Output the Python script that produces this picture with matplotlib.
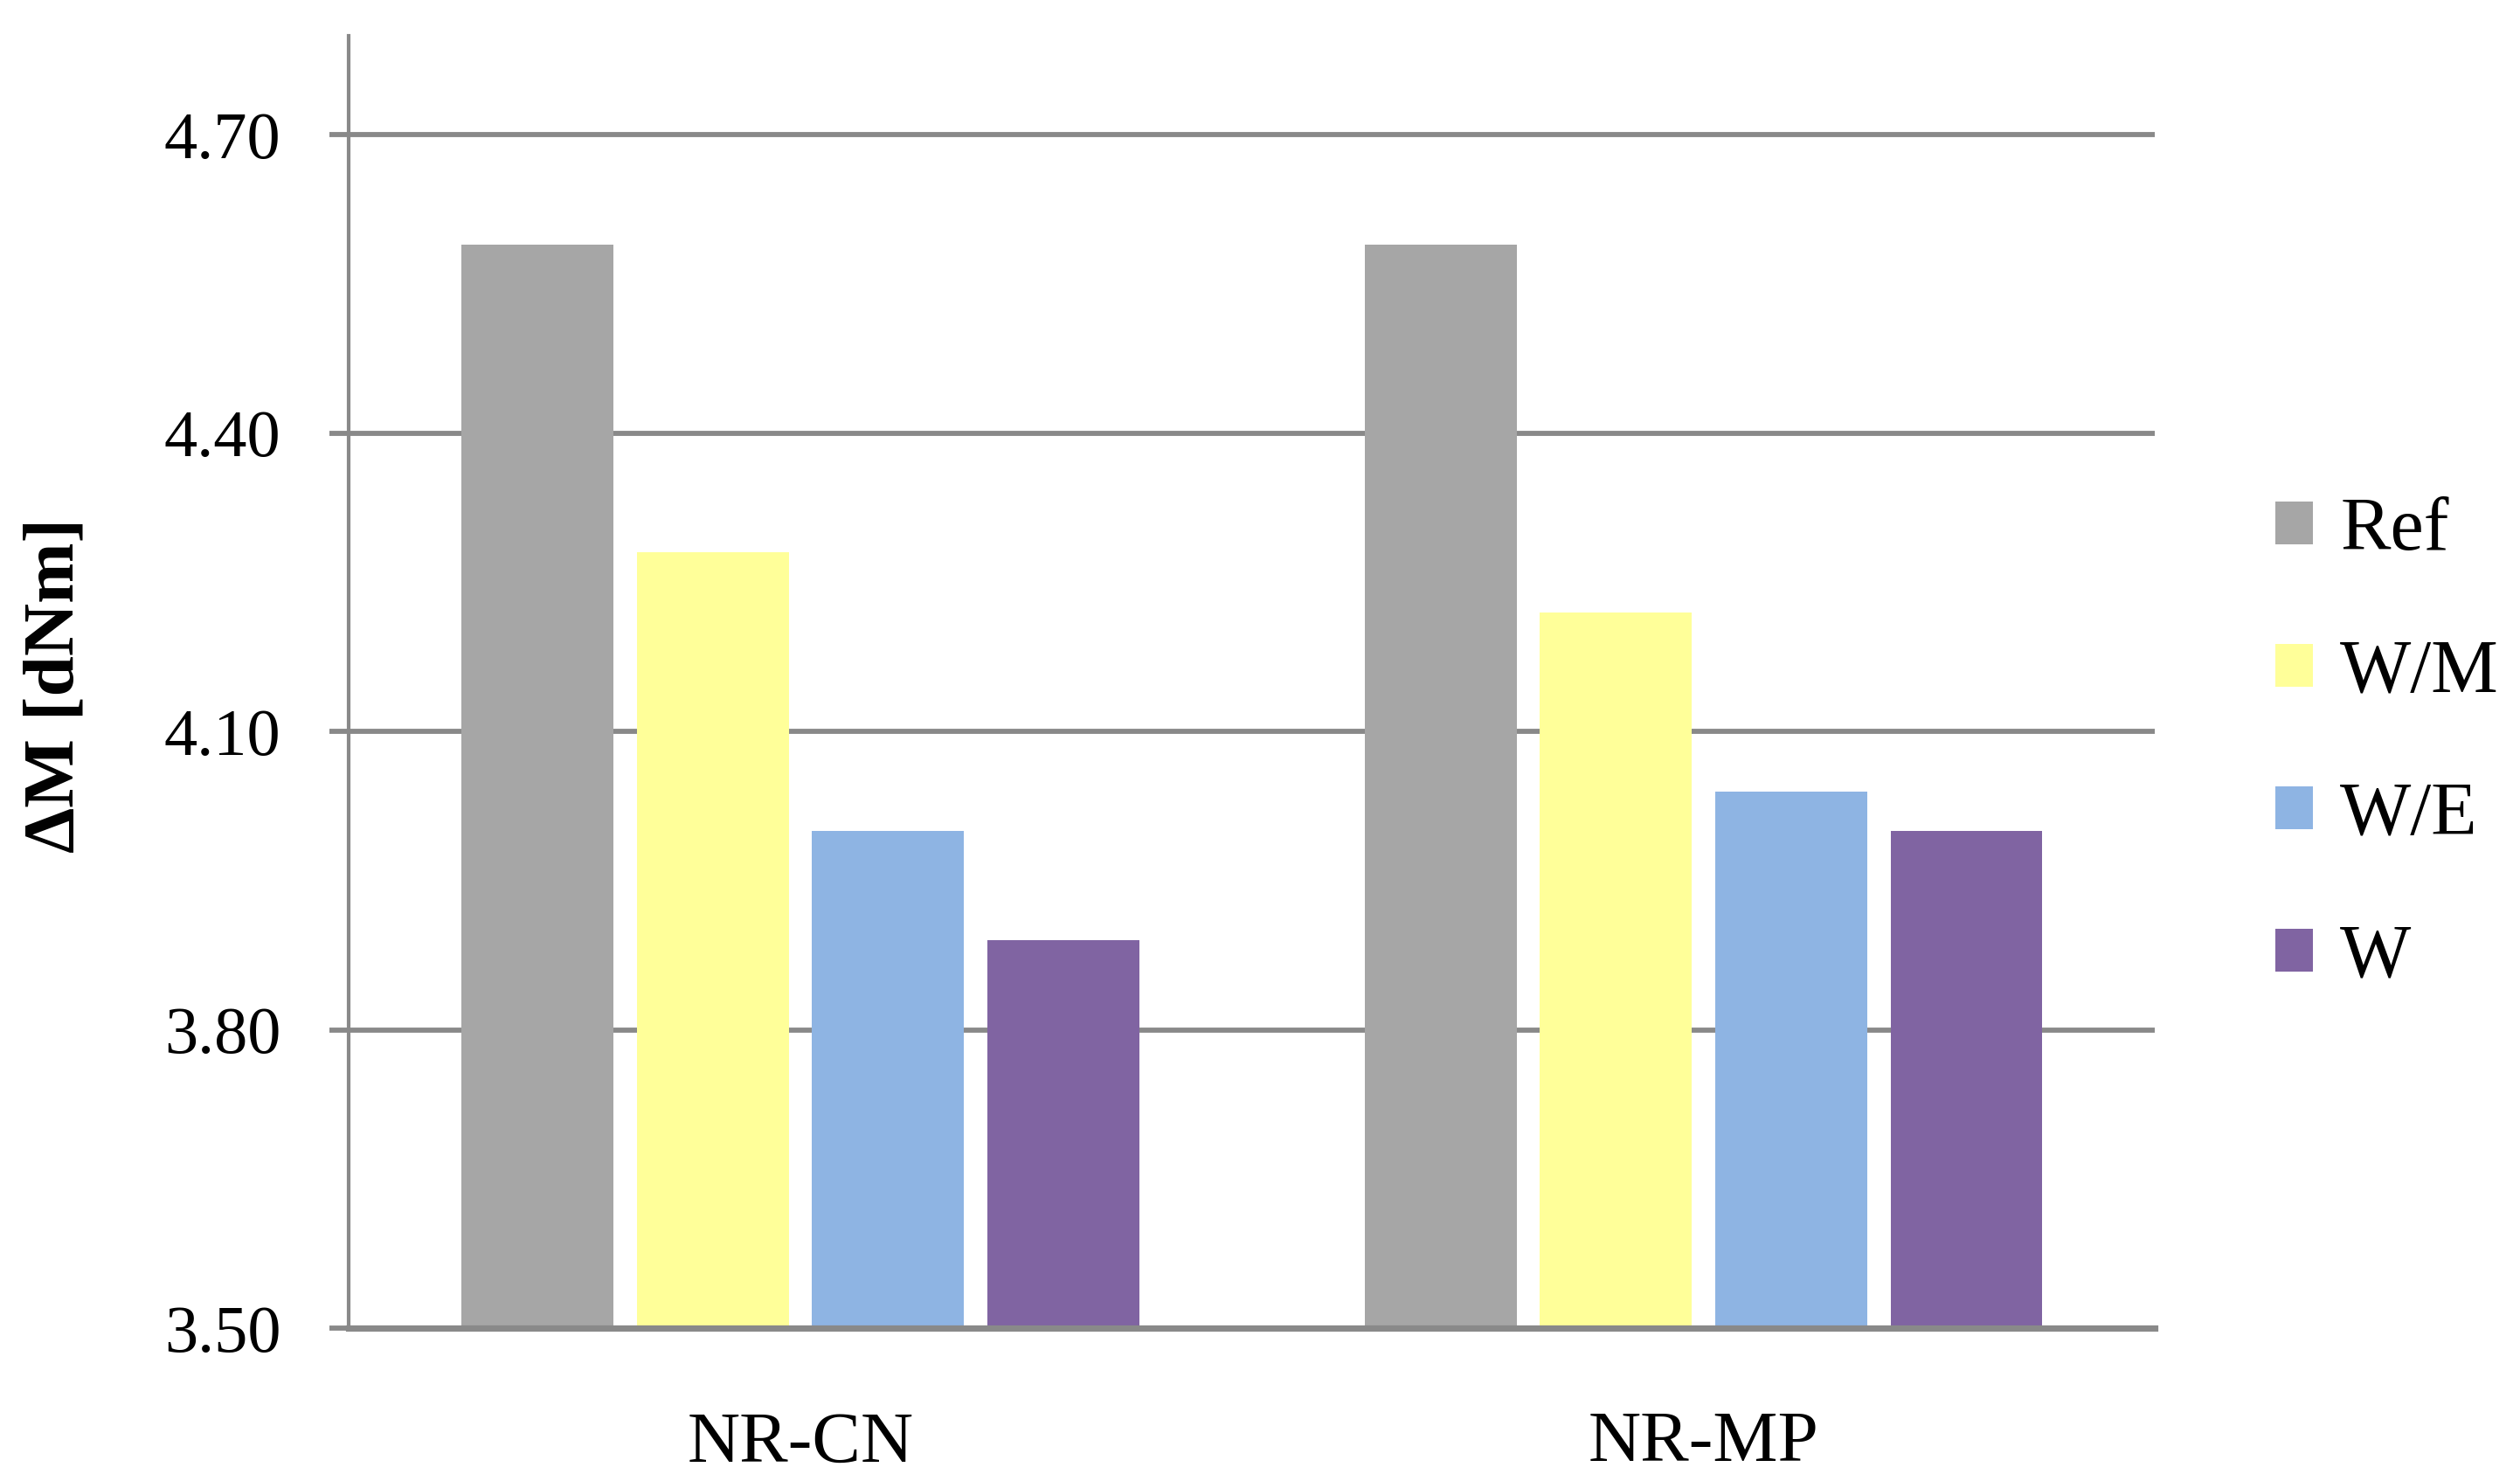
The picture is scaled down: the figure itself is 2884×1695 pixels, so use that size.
import matplotlib
matplotlib.use("Agg")
import matplotlib.pyplot as plt
import numpy as np

categories = ["NR-CN", "NR-MP"]
series_names = ["Ref", "W/M", "W/E", "W"]
ref_vals = [4.59, 4.59]
wm_vals = [4.28, 4.22]
we_vals = [4.00, 4.04]
w_vals = [3.89, 4.00]
yticks = [3.50, 3.80, 4.10, 4.40, 4.70]
colors = ["#A6A6A6", "#FFFF99", "#8EB4E3", "#8064A2"]

plt.rcParams['font.family'] = ['Liberation Serif', 'DejaVu Serif']

fig = plt.figure(figsize=(14.42, 8.475), dpi=200)
ax = fig.add_axes([0.1384, 0.1030, 0.8552 - 0.1384, 0.9761 - 0.1030])

x = np.arange(len(categories))
step = 0.194
width = 0.168
all_vals = [ref_vals, wm_vals, we_vals, w_vals]
for i, (vals, name, c) in enumerate(zip(all_vals, series_names, colors)):
    ax.bar(x + (i - 1.5) * step, vals, width=width, color=c, label=name, zorder=3)

ax.set_xlim(-0.5, 1.5)
ax.set_ylim(3.5, 4.80)
ax.set_yticks(yticks)
ax.set_yticklabels([f"{v:.2f}" for v in yticks], fontsize=27.5)
ax.set_xticks(x)
ax.set_xticklabels(categories, fontsize=30)

grid_c = "#898989"
ax.yaxis.grid(True, color=grid_c, linewidth=2.1, zorder=0)
ax.xaxis.grid(False)
for s in ["top", "right"]:
    ax.spines[s].set_visible(False)
ax.spines["left"].set_color(grid_c)
ax.spines["left"].set_linewidth(1.5)
ax.spines["bottom"].set_color(grid_c)
ax.spines["bottom"].set_linewidth(2.6)
ax.spines["bottom"].set_zorder(4)
ax.tick_params(axis='y', length=8, width=2.1, color=grid_c, pad=20, direction='out')
ax.tick_params(axis='x', length=0, pad=34)

fig.text(0.0223, 0.537, "ΔM [dNm]", rotation=90, fontsize=30, fontweight='bold',
         ha='center', va='center')

fig.legend(loc='center left', bbox_to_anchor=(0.903, 0.497), bbox_transform=fig.transFigure,
           frameon=False, fontsize=31, handlelength=0.5, handleheight=0.5,
           handletextpad=0.36, labelspacing=0.97, borderpad=0, borderaxespad=0)

fig.savefig("out.png", dpi=200)
